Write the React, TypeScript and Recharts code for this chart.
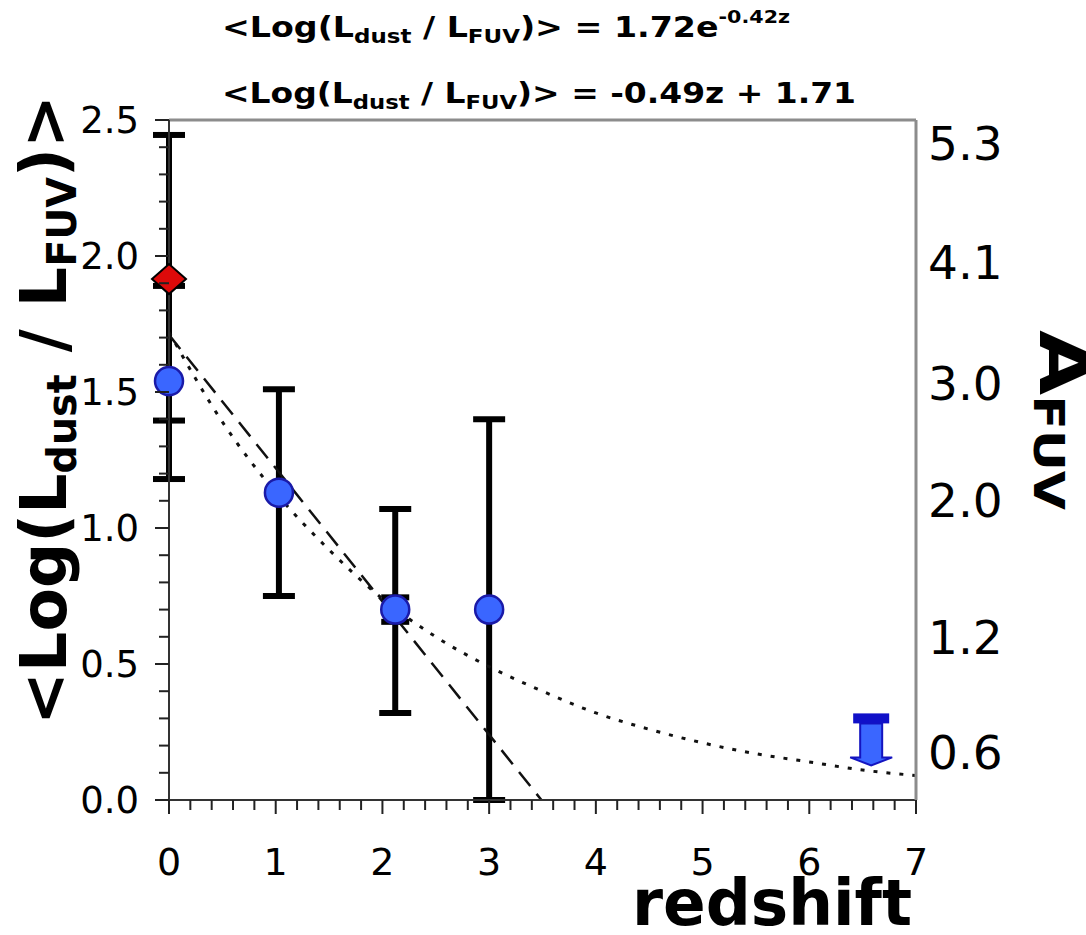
import React from "react";
import { ComposedChart, Scatter, Line, XAxis, YAxis, ErrorBar, ReferenceLine } from "recharts";

// blue circles: redshift, <Log(Ldust/LFUV)>, lower / upper error
const blueZ = [0, 1.03, 2.12, 3.0];
const blueV = [1.54, 1.13, 0.7, 0.7];
const blueErrLow = [0.36, 0.38, 0.38, 0.7];
const blueErrHigh = [0.35, 0.38, 0.37, 0.7];

// narrow extra error bar on the z~2 point
const innerZ = [2.12];
const innerV = [0.7];
const innerErr = [0.045];

// red diamond at z = 0
const redZ = [0];
const redV = [1.915];
const redErrLow = [0.52];
const redErrHigh = [0.53];

// upper limit at high redshift
const limitZ = [6.58];
const limitV = [0.3];

// fits
const linearZ = [0, 3.49];
const linearV = [1.71, 0];
const expZ = [0, 0.5, 1, 1.5, 2, 2.5, 3, 3.5, 4, 4.5, 5, 5.5, 6, 6.5, 7];
const expV = [1.72, 1.39, 1.13, 0.92, 0.74, 0.6, 0.49, 0.4, 0.32, 0.26, 0.21, 0.17, 0.14, 0.11, 0.09];

// axes
const xTicks = [0, 0.2, 0.4, 0.6, 0.8, 1, 1.2, 1.4, 1.6, 1.8, 2, 2.2, 2.4, 2.6, 2.8, 3, 3.2, 3.4, 3.6, 3.8, 4, 4.2, 4.4, 4.6, 4.8, 5, 5.2, 5.4, 5.6, 5.8, 6, 6.2, 6.4, 6.6, 6.8, 7];
const yTicks = [0, 0.1, 0.2, 0.3, 0.4, 0.5, 0.6, 0.7, 0.8, 0.9, 1, 1.1, 1.2, 1.3, 1.4, 1.5, 1.6, 1.7, 1.8, 1.9, 2, 2.1, 2.2, 2.3, 2.4, 2.5];
const aTickPos = [2.415, 1.978, 1.533, 1.103, 0.599, 0.176];
const aTickLabels = ["5.3", "4.1", "3.0", "2.0", "1.2", "0.6"];

const W = 1086;
const H = 935;
const FONT = "'DejaVu Sans', Verdana, sans-serif";

const blueData = blueZ.map((z, i) => ({ z, v: blueV[i], err: [blueErrLow[i], blueErrHigh[i]] }));
const innerData = innerZ.map((z, i) => ({ z, v: innerV[i], err: innerErr[i] }));
const redData = redZ.map((z, i) => ({ z, v: redV[i], err: [redErrLow[i], redErrHigh[i]] }));
const limitData = limitZ.map((z, i) => ({ z, v: limitV[i] }));
const linearData = linearZ.map((z, i) => ({ z, v: linearV[i] }));
const expData = expZ.map((z, i) => ({ z, v: expV[i] }));

const isMajor = (v: number, step: number) => Math.abs(v / step - Math.round(v / step)) < 1e-6;

const XTick = (p: any) => {
  const { x, y, payload } = p;
  const major = isMajor(payload.value, 1);
  return (
    <g>
      <line x1={x} x2={x} y1={y} y2={y + (major ? 14 : 10)} stroke="#222" strokeWidth={2} />
      {major && (
        <text x={x} y={y + 75} textAnchor="middle" fontSize={38} fontFamily={FONT} fill="#000">
          {Math.round(payload.value)}
        </text>
      )}
    </g>
  );
};

const YTick = (p: any) => {
  const { x, y, payload } = p;
  const major = isMajor(payload.value, 0.5);
  return (
    <g>
      <line x1={x} x2={x - (major ? 14 : 10)} y1={y} y2={y} stroke="#222" strokeWidth={2} />
      {major && (
        <text x={x - 30} y={y + 13} textAnchor="end" fontSize={37} fontFamily={FONT} fill="#000">
          {payload.value.toFixed(1)}
        </text>
      )}
    </g>
  );
};

const ATick = (p: any) => {
  const { x, y, payload } = p;
  const label = aTickLabels[aTickPos.indexOf(payload.value)];
  return (
    <text x={x + 12} y={y + 17} textAnchor="start" fontSize={47} fontFamily={FONT} fill="#000">
      {label}
    </text>
  );
};

const Circle = (p: any) => <circle cx={p.cx} cy={p.cy} r={14} fill="#3a66ff" stroke="#1a1aa8" strokeWidth={2.5} />;

const Diamond = (p: any) => (
  <polygon
    points={`${p.cx - 17},${p.cy} ${p.cx},${p.cy - 15} ${p.cx + 17},${p.cy} ${p.cx},${p.cy + 15}`}
    fill="#dd0a0a"
    stroke="#000"
    strokeWidth={2}
  />
);

const Nothing = () => <g />;

const LimitArrow = (p: any) => {
  const { cx, cy } = p;
  return (
    <g>
      <polygon
        points={`${cx - 11},${cy + 5} ${cx + 11},${cy + 5} ${cx + 11},${cy + 39} ${cx + 21},${cy + 39} ${cx},${cy + 47} ${cx - 21},${cy + 39} ${cx - 11},${cy + 39}`}
        fill="#3a66ff"
        stroke="#1414c0"
        strokeWidth={2}
      />
      <rect x={cx - 18} y={cy - 5} width={36} height={10} fill="#1010c8" />
    </g>
  );
};

export default function App() {
  return (
    <div style={{ position: "absolute", left: 0, top: 0, width: W, height: H, background: "#fff" }}>
      <ComposedChart width={W} height={H} margin={{ top: 120, right: 50, bottom: 75, left: 109 }}>
        <XAxis
          type="number"
          dataKey="z"
          domain={[0, 7]}
          ticks={xTicks}
          interval={0}
          tickSize={0}
          tickMargin={0}
          tick={<XTick />}
          height={60}
          axisLine={{ stroke: "#333", strokeWidth: 2 }}
        />
        <YAxis
          yAxisId="left"
          type="number"
          dataKey="v"
          domain={[0, 2.5]}
          ticks={yTicks}
          interval={0}
          tickSize={0}
          tickMargin={0}
          tick={<YTick />}
          width={60}
          axisLine={{ stroke: "#333", strokeWidth: 2 }}
        />
        {/* A_FUV scale: no series attached, labels only */}
        <YAxis
          yAxisId="right"
          orientation="right"
          type="number"
          domain={[0, 2.5]}
          ticks={aTickPos}
          interval={0}
          tickSize={0}
          tickMargin={0}
          tick={<ATick />}
          width={120}
          axisLine={{ stroke: "#8c8c8c", strokeWidth: 3 }}
          allowDataOverflow
        />
        <ReferenceLine yAxisId="left" y={2.5} stroke="#8c8c8c" strokeWidth={3} />

        <Scatter yAxisId="left" data={redData} dataKey="v" shape={<Nothing />} isAnimationActive={false}>
          <ErrorBar dataKey="err" direction="y" width={16} strokeWidth={6} stroke="#000" isAnimationActive={false} />
        </Scatter>
        <Scatter yAxisId="left" data={innerData} dataKey="v" shape={<Nothing />} isAnimationActive={false}>
          <ErrorBar dataKey="err" direction="y" width={14} strokeWidth={6} stroke="#000" isAnimationActive={false} />
        </Scatter>
        <Scatter yAxisId="left" data={blueData} dataKey="v" shape={<Circle />} isAnimationActive={false}>
          <ErrorBar dataKey="err" direction="y" width={16} strokeWidth={6} stroke="#000" isAnimationActive={false} />
        </Scatter>
        <Scatter yAxisId="left" data={redData} dataKey="v" shape={<Diamond />} isAnimationActive={false} />
        <Scatter yAxisId="left" data={limitData} dataKey="v" shape={<LimitArrow />} isAnimationActive={false} />

        <Line
          yAxisId="left"
          data={linearData}
          dataKey="v"
          type="linear"
          stroke="#111"
          strokeWidth={2.5}
          strokeDasharray="18 10"
          dot={false}
          activeDot={false}
          isAnimationActive={false}
        />
        <Line
          yAxisId="left"
          data={expData}
          dataKey="v"
          type="monotone"
          stroke="#111"
          strokeWidth={3}
          strokeDasharray="4 9"
          dot={false}
          activeDot={false}
          isAnimationActive={false}
        />
      </ComposedChart>

      <svg width={W} height={H} style={{ position: "absolute", left: 0, top: 0, pointerEvents: "none" }}>
        <g fontFamily={FONT} fontWeight="bold" fill="#000">
          <text x={222} y={37} fontSize={29} textLength={568} lengthAdjust="spacingAndGlyphs">
            {"<Log(L"}
            <tspan fontSize={20} dy={6}>dust</tspan>
            <tspan dy={-6}>{" / L"}</tspan>
            <tspan fontSize={20} dy={6}>FUV</tspan>
            <tspan dy={-6}>{")> = 1.72e"}</tspan>
            <tspan fontSize={18} dy={-14}>-0.42z</tspan>
          </text>
          <text x={222} y={103} fontSize={29} textLength={634} lengthAdjust="spacingAndGlyphs">
            {"<Log(L"}
            <tspan fontSize={20} dy={6}>dust</tspan>
            <tspan dy={-6}>{" / L"}</tspan>
            <tspan fontSize={20} dy={6}>FUV</tspan>
            <tspan dy={-6}>{")> = -0.49z + 1.71"}</tspan>
          </text>

          <text transform="translate(66,725) rotate(-90)" fontSize={64} textLength={630} lengthAdjust="spacingAndGlyphs">
            {"<Log(L"}
            <tspan fontSize={40} dy={10}>dust</tspan>
            <tspan dy={-10}>{" / L"}</tspan>
            <tspan fontSize={40} dy={10}>FUV</tspan>
            <tspan dy={-10}>{")>"}</tspan>
          </text>

          <text transform="translate(1040,330) rotate(90)" fontSize={70} textLength={180} lengthAdjust="spacingAndGlyphs">
            A<tspan fontSize={42} dy={6}>FUV</tspan>
          </text>

          <text x={632} y={925} fontSize={64} textLength={280} lengthAdjust="spacingAndGlyphs">
            redshift
          </text>
        </g>
      </svg>
    </div>
  );
}
